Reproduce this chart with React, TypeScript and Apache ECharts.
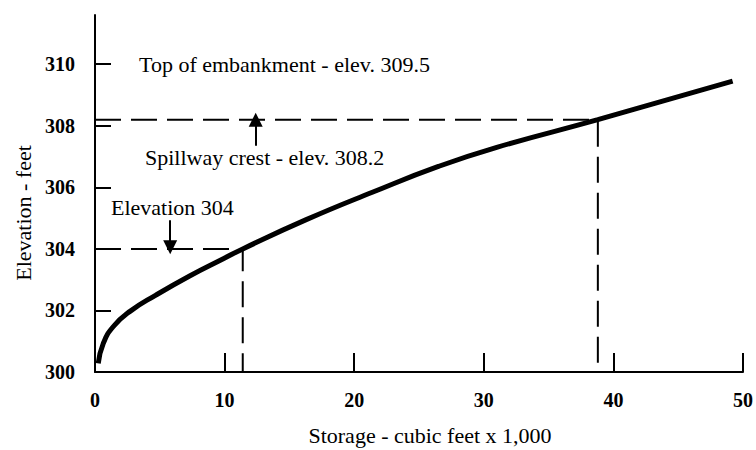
import React, { useEffect, useRef } from "react";
import * as echarts from "echarts";

const storage = [0.25, 0.64, 1.4, 2.7, 4.7, 7.3, 9.9, 11.4, 16.3, 21.4, 26.5, 31.0, 38.8, 49.2];
const elevation = [300.28, 300.93, 301.47, 301.97, 302.5, 303.12, 303.68, 304.0, 304.95, 305.84, 306.68, 307.3, 308.2, 309.45];
const xTicks = [0, 10, 20, 30, 40, 50];
const yTicks = [300, 302, 304, 306, 308, 310];
const spillway = { storage: 38.8, elevation: 308.2 };
const elev304 = { storage: 11.4, elevation: 304 };
const spillArrow = { storage: 12.4, from: 307.35, to: 308.2 };
const arrow304 = { storage: 5.8, from: 304.93, to: 304.05 };

const FONT = "Liberation Serif";

export default function App() {
  const ref = useRef<HTMLDivElement>(null);
  useEffect(() => {
    if (!ref.current) return;
    const chart = echarts.init(ref.current, undefined, { renderer: "svg" });
    const dash = { color: "#000", width: 2, type: [26, 10] as number[] };
    chart.setOption({
      animation: false,
      backgroundColor: "#fff",
      textStyle: { fontFamily: FONT },
      grid: { left: 95, right: 11, top: 15, bottom: 78 },
      xAxis: {
        type: "value",
        min: 0,
        max: 50,
        interval: 10,
        splitLine: { show: false },
        axisLine: { lineStyle: { color: "#000", width: 2 } },
        axisTick: { show: true, inside: true, length: 19, lineStyle: { color: "#000", width: 2 }, customValues: xTicks.slice(1) },
        axisLabel: { color: "#000", fontFamily: FONT, fontWeight: "bold", fontSize: 20, margin: 18, customValues: xTicks },
      },
      yAxis: {
        type: "value",
        min: 300,
        max: 311.6,
        splitLine: { show: false },
        axisLine: { show: true, lineStyle: { color: "#000", width: 2 } },
        axisTick: { show: true, inside: true, length: 16, lineStyle: { color: "#000", width: 2 }, customValues: yTicks.slice(1) },
        axisLabel: { color: "#000", fontFamily: FONT, fontWeight: "bold", fontSize: 20, margin: 20, customValues: yTicks },
      },
      series: [
        {
          type: "line",
          data: [[0, spillway.elevation], [spillway.storage, spillway.elevation], [spillway.storage, 300]],
          symbol: "none",
          lineStyle: dash,
          silent: true,
        },
        {
          type: "line",
          data: [[0, elev304.elevation], [elev304.storage, elev304.elevation], [elev304.storage, 300]],
          symbol: "none",
          lineStyle: dash,
          silent: true,
        },
        {
          type: "line",
          data: storage.map((s, i) => [s, elevation[i]]),
          smooth: 0.5,
          symbol: "none",
          lineStyle: { color: "#000", width: 5 },
          z: 5,
        },
        {
          type: "line",
          data: [],
          markLine: {
            silent: true,
            symbol: ["none", "triangle"],
            symbolSize: [14, 14],
            label: { show: false },
            lineStyle: { color: "#000", width: 2, type: "solid" },
            data: [
              [{ coord: [spillArrow.storage, spillArrow.from] }, { coord: [spillArrow.storage, spillArrow.to] }],
              [{ coord: [arrow304.storage, arrow304.from] }, { coord: [arrow304.storage, arrow304.to] }],
            ],
          },
        },
      ],
      graphic: [
        {
          type: "text",
          left: 139,
          top: 53,
          style: { text: "Top of embankment - elev. 309.5", fontFamily: FONT, fontSize: 22, fill: "#000" },
        },
        {
          type: "text",
          left: 145,
          top: 146,
          style: { text: "Spillway crest - elev. 308.2", fontFamily: FONT, fontSize: 22, fill: "#000" },
        },
        {
          type: "text",
          left: 111,
          top: 196,
          style: { text: "Elevation 304", fontFamily: FONT, fontSize: 22, fill: "#000" },
        },
        {
          type: "text",
          x: 430,
          y: 435,
          style: { text: "Storage - cubic feet x 1,000", fontFamily: FONT, fontSize: 22, fill: "#000", align: "center", verticalAlign: "middle" },
        },
        {
          type: "text",
          x: 23,
          y: 213,
          rotation: Math.PI / 2,
          style: { text: "Elevation - feet", fontFamily: FONT, fontSize: 22, fill: "#000", align: "center", verticalAlign: "middle" },
        },
      ],
    });
    return () => chart.dispose();
  }, []);
  return <div ref={ref} style={{ position: "fixed", left: 0, top: 0, width: 756, height: 450 }} />;
}
